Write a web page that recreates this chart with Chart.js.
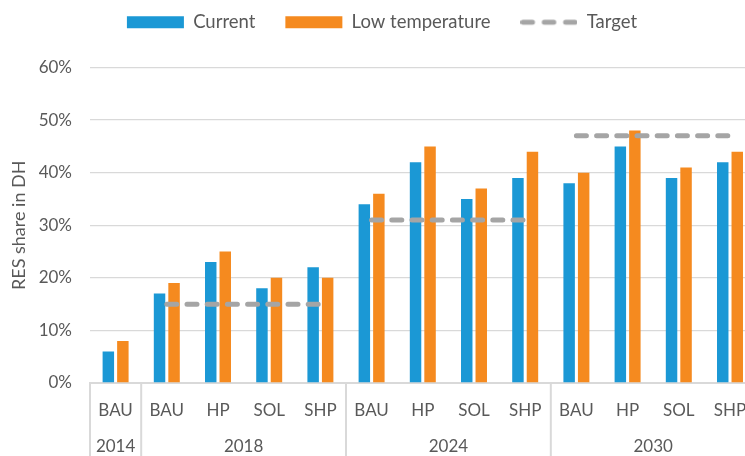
<!DOCTYPE html>
<html>
<head>
<meta charset="utf-8">
<script src="https://cdn.jsdelivr.net/npm/chart.js@4"></script>
<style>
  html, body { margin: 0; padding: 0; background: #fff; overflow: hidden; }
  #wrap { width: 764px; height: 456px; }
</style>
</head>
<body>
<div id="wrap"><canvas id="resChart"></canvas></div>
<script>
"use strict";

const scenarios = ["BAU", "BAU", "HP", "SOL", "SHP", "BAU", "HP", "SOL", "SHP", "BAU", "HP", "SOL", "SHP"];
const years = ["2014", "2018", "2024", "2030"];
const yearSizes = [1, 4, 4, 4];
const current = [6, 17, 23, 18, 22, 34, 42, 35, 39, 38, 45, 39, 42];
const lowTemp = [8, 19, 25, 20, 20, 36, 45, 37, 44, 40, 48, 41, 44];
const target = [null, 15, 15, 15, 15, 31, 31, 31, 31, 47, 47, 47, 47];
const yTicks = [0, 10, 20, 30, 40, 50, 60];

const textColor = "#595959";
const gridColor = "#D9D9D9";
const targetColor = "#A5A5A5";
const fontFamily = "Lato, 'Open Sans', sans-serif";

// last index of each year group, the dashed line must break after it
const groupEnds = [];
let runIdx = 0;
for (let i = 0; i < yearSizes.length; i++) {
  runIdx += yearSizes[i];
  groupEnds.push(runIdx - 1);
}

// small dashed swatch for the legend (legend point styles ignore borderDash)
const dashSwatch = document.createElement("canvas");
dashSwatch.width = 57;
dashSwatch.height = 12;
const sctx = dashSwatch.getContext("2d");
sctx.strokeStyle = targetColor;
sctx.lineWidth = 5;
sctx.lineCap = "round";
sctx.setLineDash([9.5, 11.8]);
sctx.beginPath();
sctx.moveTo(2.5, 6);
sctx.lineTo(56, 6);
sctx.stroke();

// more room under the legend
const legendGapPlugin = {
  id: "legendGap",
  afterInit(chart) {
    const origFit = chart.legend.fit;
    chart.legend.fit = function () {
      origFit.call(this);
      this.height += 26;
    };
  },
};

// second row of x labels (years) with separator lines
const yearRowPlugin = {
  id: "yearRow",
  afterDraw(chart) {
    const ctx = chart.ctx;
    const xScale = chart.scales.x;
    const half = (xScale.getPixelForValue(1) - xScale.getPixelForValue(0)) / 2;
    const top = chart.chartArea.bottom;
    const bottom = chart.height;

    ctx.save();
    ctx.strokeStyle = gridColor;
    ctx.lineWidth = 2;
    ctx.fillStyle = textColor;
    ctx.font = "17px " + fontFamily;
    ctx.textAlign = "center";
    ctx.textBaseline = "middle";

    let start = 0;
    for (let i = 0; i <= yearSizes.length; i++) {
      const x = xScale.getPixelForValue(start) - half;
      ctx.beginPath();
      ctx.moveTo(x, top);
      ctx.lineTo(x, bottom);
      ctx.stroke();
      if (i < yearSizes.length) {
        const endX = xScale.getPixelForValue(start + yearSizes[i] - 1) + half;
        ctx.fillText(years[i], (x + endX) / 2, top + 64);
        start += yearSizes[i];
      }
    }
    ctx.restore();
  },
};

const chartData = {
  labels: scenarios,
  datasets: [
    {
      type: "bar",
      label: "Current",
      data: current,
      backgroundColor: "#1B98D5",
      borderWidth: 0,
      pointStyle: "rect",
      order: 1,
      categoryPercentage: 0.567,
      barPercentage: 0.79,
    },
    {
      type: "bar",
      label: "Low temperature",
      data: lowTemp,
      backgroundColor: "#F58A1F",
      borderWidth: 0,
      pointStyle: "rect",
      order: 1,
      categoryPercentage: 0.567,
      barPercentage: 0.79,
    },
    {
      type: "line",
      label: "Target",
      data: target,
      borderColor: targetColor,
      backgroundColor: targetColor,
      borderWidth: 5,
      borderDash: [10, 10.2],
      borderCapStyle: "round",
      pointRadius: 0,
      pointStyle: dashSwatch,
      order: 0,
      segment: {
        borderColor: (c) => (groupEnds.includes(c.p0DataIndex) ? "transparent" : targetColor),
      },
    },
  ],
};

const chartConfig = {
  data: chartData,
  options: {
    responsive: true,
    maintainAspectRatio: false,
    animation: false,
    layout: {
      padding: { left: 8.4, right: 8.4, top: -17, bottom: 0 },
    },
    plugins: {
      legend: {
        position: "top",
        labels: {
          usePointStyle: true,
          pointStyleWidth: 57,
          boxHeight: 12,
          padding: 30,
          color: textColor,
          font: { family: fontFamily, size: 18.5 },
          sort: (a, b) => a.datasetIndex - b.datasetIndex,
        },
      },
      tooltip: { enabled: false },
    },
    scales: {
      x: {
        grid: { display: false },
        border: { display: true, color: gridColor, width: 2 },
        ticks: {
          color: textColor,
          font: { family: fontFamily, size: 17 },
          padding: 9.5,
          maxRotation: 0,
          autoSkip: false,
        },
        afterFit(scale) {
          scale.height = 73;
        },
      },
      y: {
        min: 0,
        max: 60,
        afterBuildTicks(scale) {
          scale.ticks = yTicks.map((v) => ({ value: v }));
        },
        grid: { color: gridColor, lineWidth: 1.3, drawTicks: false },
        border: { display: false },
        ticks: {
          color: textColor,
          font: { family: fontFamily, size: 17 },
          padding: 18,
          callback: (v) => v + "%",
        },
        title: {
          display: true,
          text: "RES share in DH",
          color: textColor,
          font: { family: fontFamily, size: 18 },
          padding: { top: 0, bottom: 0 },
        },
        afterFit(scale) {
          scale.width = 81.6;
        },
      },
    },
  },
  plugins: [legendGapPlugin, yearRowPlugin],
};

const resChart = new Chart(document.getElementById("resChart"), chartConfig);
</script>
</body>
</html>
